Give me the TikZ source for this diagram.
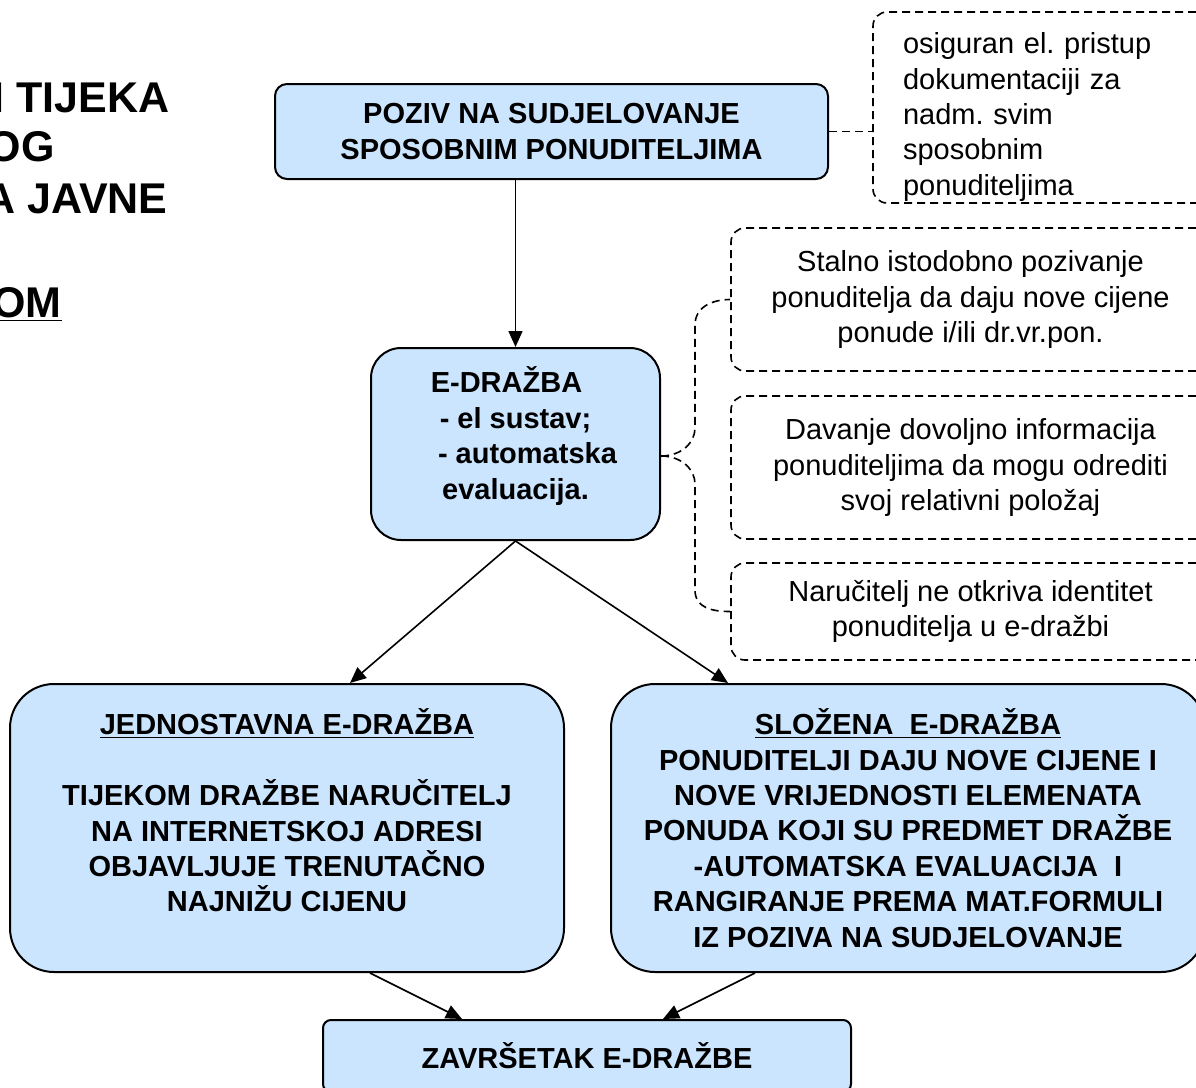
\documentclass[tikz,border=0pt]{standalone}
\usepackage{fontspec}
\setmainfont{Liberation Sans}
\usetikzlibrary{arrows.meta,calc}
\definecolor{boxblue}{RGB}{204,229,255}
\frenchspacing

\begin{document}
\begin{tikzpicture}[x=0.5pt,y=-0.5pt,
		stage/.style={draw=black,line width=1pt,fill=boxblue,align=center,
			font=\bfseries\fontsize{14.5}{17.7}\selectfont},
		note/.style={draw=black,line width=0.8pt,dash pattern=on 4pt off 2.5pt,
			rounded corners=7pt,minimum width=239.5pt,align=center,
			font=\fontsize{14.5}{17.7}\selectfont},
		link/.style={line width=0.8pt,dash pattern=on 4pt off 2.5pt},
		flow/.style={line width=0.8pt,-{Triangle[length=8pt,width=7pt]}},
		heading/.style={anchor=base east,inner sep=0pt,
			font=\bfseries\fontsize{21.5}{25.75}\selectfont}]
	\useasboundingbox (0,0) rectangle (1196,1088);
	\clip (0,0) rectangle (1196,1088);
	% title, cut off at the left
	\node[heading] (title1) at (170,112) {I TIJEKA};
	\node[heading] (title2) at (55,161) {OG};
	\node[heading] (title3) at (168,213) {A JAVNE};
	\node[heading] (title4) at (62,317) {\underline{OM}};
	% stages
	\node[stage,rounded corners=6pt,minimum width=276.5pt,minimum height=47.5pt] (poziv) at (551.5,131.5)
		{POZIV NA SUDJELOVANJE\\SPOSOBNIM PONUDITELJIMA};
	\node[stage,rounded corners=15pt,minimum width=144.5pt,minimum height=96pt] (edrazba) at (515.5,444)
		{E-DRAŽBA\hspace*{9pt}\\- el sustav;\\\hspace*{12pt}- automatska\\evaluacija.\rule[-11pt]{0pt}{11pt}};
	\node[stage,rounded corners=22pt,minimum width=277pt,minimum height=144pt] (jednostavna) at (287,828)
		{\underline{JEDNOSTAVNA E-DRAŽBA}\\[17.7pt]TIJEKOM DRAŽBE NARUČITELJ\\NA INTERNETSKOJ ADRESI\\OBJAVLJUJE TRENUTAČNO\\NAJNIŽU CIJENU\\\mbox{}};
	\node[stage,rounded corners=22pt,minimum width=297pt,minimum height=144pt] (slozena) at (908,828)
		{\underline{SLOŽENA\ \ E-DRAŽBA}\\PONUDITELJI DAJU NOVE CIJENE I\\NOVE VRIJEDNOSTI ELEMENATA\\PONUDA KOJI SU PREDMET DRAŽBE\\-AUTOMATSKA EVALUACIJA\ \ I\\RANGIRANJE PREMA MAT.FORMULI\\IZ POZIVA NA SUDJELOVANJE};
	\node[stage,rounded corners=4pt,minimum width=264pt,minimum height=36pt] (zavrsetak) at (587,1056)
		{ZAVRŠETAK E-DRAŽBE};
	% notes
	\node[note,align=left,minimum width=168.5pt,minimum height=95.5pt,inner xsep=15pt,inner ysep=0pt,text width=138.5pt] (osiguran) at (1041.5,107.5)
		{\rule{0pt}{20pt}osiguran el. pristup\\dokumentaciji za\\nadm. svim\\sposobnim\\ponuditeljima};
	\node[note,minimum height=71.5pt] (stalno) at (970.5,299.5)
		{Stalno istodobno pozivanje\\ponuditelja da daju nove cijene\\ponude i/ili dr.vr.pon.};
	\node[note,minimum height=71.5pt] (davanje) at (970.5,467.5)
		{Davanje dovoljno informacija\\ponuditeljima da mogu odrediti\\svoj relativni položaj};
	\node[note,minimum height=48.5pt] (narucitelj) at (970.5,611.5)
		{Naručitelj ne otkriva identitet\\ponuditelja u e-dražbi};
	% dashed links
	\draw[link] (poziv.east) -- (poziv.east -| osiguran.west);
	\coordinate (fork) at ($(edrazba.east)+(0,12)$);
	\draw[link] (fork) .. controls +(20,0) and +(0,15) .. (695,428) -- (695,325)
		.. controls +(0,-18) and +(-18,0) .. (stalno.west);
	\draw[link] (fork) .. controls +(20,0) and +(0,-15) .. (695,484) -- (695,590)
		.. controls +(0,18) and +(-18,0) .. (narucitelj.west);
	% arrows
	\draw[flow] (poziv.south -| edrazba.north) -- (edrazba.north);
	\draw[flow] (edrazba.south) -- ($(jednostavna.north)+(63,0)$);
	\draw[flow] (edrazba.south) -- ($(slozena.north)+(-180,0)$);
	\draw[flow] ($(jednostavna.south)+(83,0)$) -- ($(zavrsetak.north)+(-125,0)$);
	\draw[flow] ($(slozena.south)+(-153,0)$) -- ($(zavrsetak.north)+(76,0)$);
\end{tikzpicture}
\end{document}
